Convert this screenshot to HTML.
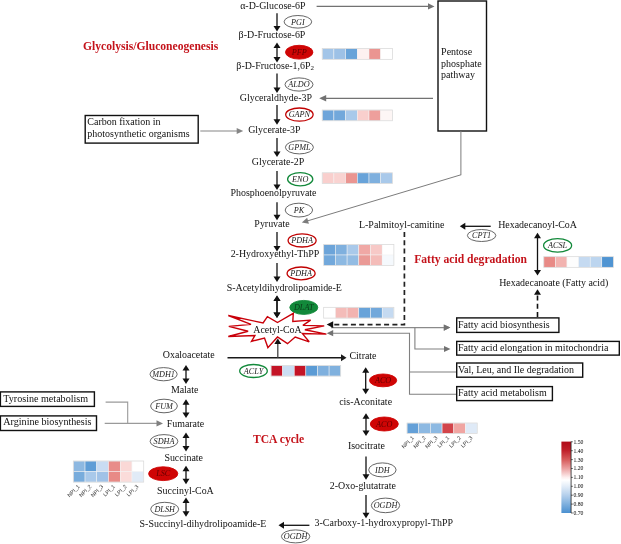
<!DOCTYPE html>
<html><head><meta charset="utf-8"><title>Pathway</title>
<style>
html,body{margin:0;padding:0;background:#fff;}
svg{display:block;filter:blur(0.4px);font-family:'Liberation Serif', 'DejaVu Serif', serif;}
</style></head><body>
<svg width="621" height="544" viewBox="0 0 621 544">
<rect width="621" height="544" fill="#fff"/>
<text x="272.8" y="9.4" font-size="9.93" text-anchor="middle" fill="#111">α-D-Glucose-6P</text>
<text x="272" y="37.8" font-size="9.93" text-anchor="middle" fill="#111">β-D-Fructose-6P</text>
<text x="275.2" y="69.2" font-size="9.93" text-anchor="middle" fill="#111">β-D-Fructose-1,6P<tspan font-size="7" dy="1.2">2</tspan></text>
<text x="275.9" y="100.7" font-size="9.93" text-anchor="middle" fill="#111">Glyceraldhyde-3P</text>
<text x="274.3" y="133.2" font-size="9.93" text-anchor="middle" fill="#111">Glycerate-3P</text>
<text x="278" y="164.8" font-size="9.93" text-anchor="middle" fill="#111">Glycerate-2P</text>
<text x="273.5" y="196.0" font-size="9.93" text-anchor="middle" fill="#111">Phosphoenolpyruvate</text>
<text x="272" y="227.2" font-size="9.93" text-anchor="middle" fill="#111">Pyruvate</text>
<text x="275" y="257.2" font-size="9.93" text-anchor="middle" fill="#111">2-Hydroxyethyl-ThPP</text>
<text x="284.3" y="291.2" font-size="9.93" text-anchor="middle" fill="#111">S-Acetyldihydrolipoamide-E</text>
<line x1="277.00" y1="13.20" x2="277.00" y2="27.00" stroke="#111" stroke-width="1.3"/>
<polygon points="277.00,31.50 273.50,26.00 280.50,26.00" fill="#111"/>
<line x1="277.00" y1="47.00" x2="277.00" y2="58.10" stroke="#111" stroke-width="1.3"/>
<polygon points="277.00,62.60 273.50,57.10 280.50,57.10" fill="#111"/>
<polygon points="277.00,42.50 280.50,48.00 273.50,48.00" fill="#111"/>
<line x1="277.00" y1="73.50" x2="277.00" y2="88.40" stroke="#111" stroke-width="1.3"/>
<polygon points="277.00,92.90 273.50,87.40 280.50,87.40" fill="#111"/>
<line x1="277.00" y1="105.00" x2="277.00" y2="120.30" stroke="#111" stroke-width="1.3"/>
<polygon points="277.00,124.80 273.50,119.30 280.50,119.30" fill="#111"/>
<line x1="277.00" y1="138.00" x2="277.00" y2="152.60" stroke="#111" stroke-width="1.3"/>
<polygon points="277.00,157.10 273.50,151.60 280.50,151.60" fill="#111"/>
<line x1="277.00" y1="171.10" x2="277.00" y2="185.40" stroke="#111" stroke-width="1.3"/>
<polygon points="277.00,189.90 273.50,184.40 280.50,184.40" fill="#111"/>
<line x1="277.00" y1="202.30" x2="277.00" y2="215.80" stroke="#111" stroke-width="1.3"/>
<polygon points="277.00,220.30 273.50,214.80 280.50,214.80" fill="#111"/>
<line x1="277.00" y1="231.90" x2="277.00" y2="247.10" stroke="#111" stroke-width="1.3"/>
<polygon points="277.00,251.60 273.50,246.10 280.50,246.10" fill="#111"/>
<line x1="277.00" y1="263.00" x2="277.00" y2="277.50" stroke="#111" stroke-width="1.3"/>
<polygon points="277.00,282.00 273.50,276.50 280.50,276.50" fill="#111"/>
<line x1="277.00" y1="300.00" x2="277.00" y2="313.50" stroke="#111" stroke-width="1.3"/>
<polygon points="277.00,318.00 273.50,312.50 280.50,312.50" fill="#111"/>
<polygon points="277.00,295.50 280.50,301.00 273.50,301.00" fill="#111"/>
<ellipse cx="297.9" cy="21.8" rx="13.8" ry="6.3" fill="#fff" stroke="#555" stroke-width="0.9"/>
<text x="297.9" y="24.506" font-size="8.2" text-anchor="middle" font-style="italic" fill="#222">PGI</text>
<ellipse cx="299.2" cy="52.2" rx="13.7" ry="6.9" fill="#cf0505" stroke="#cf0505" stroke-width="0.9"/>
<text x="299.2" y="54.906000000000006" font-size="8.2" text-anchor="middle" font-style="italic" fill="#650000">PFP</text>
<ellipse cx="299" cy="84.5" rx="14" ry="6.6" fill="#fff" stroke="#555" stroke-width="0.9"/>
<text x="299" y="87.206" font-size="8.2" text-anchor="middle" font-style="italic" fill="#222">ALDO</text>
<ellipse cx="299.4" cy="114.6" rx="13.7" ry="6.6" fill="#fff" stroke="#c00000" stroke-width="1.3"/>
<text x="299.4" y="117.306" font-size="8.2" text-anchor="middle" font-style="italic" fill="#222">GAPN</text>
<ellipse cx="299.4" cy="147.3" rx="14" ry="6.6" fill="#fff" stroke="#555" stroke-width="0.9"/>
<text x="299.4" y="150.006" font-size="8.2" text-anchor="middle" font-style="italic" fill="#222">GPML</text>
<ellipse cx="300.2" cy="179.2" rx="12.6" ry="6.6" fill="#fff" stroke="#12893a" stroke-width="1.3"/>
<text x="300.2" y="181.90599999999998" font-size="8.2" text-anchor="middle" font-style="italic" fill="#222">ENO</text>
<ellipse cx="298.9" cy="210.1" rx="13.7" ry="6.9" fill="#fff" stroke="#555" stroke-width="0.9"/>
<text x="298.9" y="212.80599999999998" font-size="8.2" text-anchor="middle" font-style="italic" fill="#222">PK</text>
<ellipse cx="302.1" cy="240.4" rx="14" ry="6.6" fill="#fff" stroke="#c00000" stroke-width="1.3"/>
<text x="302.1" y="243.106" font-size="8.2" text-anchor="middle" font-style="italic" fill="#222">PDHA</text>
<ellipse cx="301.1" cy="273.4" rx="14" ry="6.4" fill="#fff" stroke="#c00000" stroke-width="1.3"/>
<text x="301.1" y="276.106" font-size="8.2" text-anchor="middle" font-style="italic" fill="#222">PDHA</text>
<ellipse cx="303.8" cy="307.4" rx="14" ry="7" fill="#12893a" stroke="#12893a" stroke-width="0.9"/>
<text x="303.8" y="310.106" font-size="8.2" text-anchor="middle" font-style="italic" fill="#0a3d1a">DLAT</text>
<rect x="322.20" y="48.50" width="11.70" height="10.80" fill="#a3c5e8" stroke="#f4f4f4" stroke-width="0.5"/>
<rect x="333.90" y="48.50" width="11.70" height="10.80" fill="#9dc1e6" stroke="#f4f4f4" stroke-width="0.5"/>
<rect x="345.60" y="48.50" width="11.70" height="10.80" fill="#68a3d9" stroke="#f4f4f4" stroke-width="0.5"/>
<rect x="357.30" y="48.50" width="11.70" height="10.80" fill="#fdf1f0" stroke="#f4f4f4" stroke-width="0.5"/>
<rect x="369.00" y="48.50" width="11.70" height="10.80" fill="#ea9591" stroke="#f4f4f4" stroke-width="0.5"/>
<rect x="380.70" y="48.50" width="11.70" height="10.80" fill="#ffffff" stroke="#f4f4f4" stroke-width="0.5"/>
<rect x="322.20" y="48.50" width="70.20" height="10.80" fill="none" stroke="#d9d9d9" stroke-width="0.7"/>
<rect x="322.20" y="110.00" width="11.70" height="10.80" fill="#6ea5da" stroke="#f4f4f4" stroke-width="0.5"/>
<rect x="333.90" y="110.00" width="11.70" height="10.80" fill="#72a8db" stroke="#f4f4f4" stroke-width="0.5"/>
<rect x="345.60" y="110.00" width="11.70" height="10.80" fill="#a9c9ea" stroke="#f4f4f4" stroke-width="0.5"/>
<rect x="357.30" y="110.00" width="11.70" height="10.80" fill="#f9cfcd" stroke="#f4f4f4" stroke-width="0.5"/>
<rect x="369.00" y="110.00" width="11.70" height="10.80" fill="#ee9f9c" stroke="#f4f4f4" stroke-width="0.5"/>
<rect x="380.70" y="110.00" width="11.70" height="10.80" fill="#fdf6f5" stroke="#f4f4f4" stroke-width="0.5"/>
<rect x="322.20" y="110.00" width="70.20" height="10.80" fill="none" stroke="#d9d9d9" stroke-width="0.7"/>
<rect x="322.20" y="172.80" width="11.70" height="10.80" fill="#f9cfcd" stroke="#f4f4f4" stroke-width="0.5"/>
<rect x="333.90" y="172.80" width="11.70" height="10.80" fill="#f9d3d1" stroke="#f4f4f4" stroke-width="0.5"/>
<rect x="345.60" y="172.80" width="11.70" height="10.80" fill="#ea9591" stroke="#f4f4f4" stroke-width="0.5"/>
<rect x="357.30" y="172.80" width="11.70" height="10.80" fill="#68a3d9" stroke="#f4f4f4" stroke-width="0.5"/>
<rect x="369.00" y="172.80" width="11.70" height="10.80" fill="#7fb0de" stroke="#f4f4f4" stroke-width="0.5"/>
<rect x="380.70" y="172.80" width="11.70" height="10.80" fill="#a9c9ea" stroke="#f4f4f4" stroke-width="0.5"/>
<rect x="322.20" y="172.80" width="70.20" height="10.80" fill="none" stroke="#d9d9d9" stroke-width="0.7"/>
<rect x="323.70" y="244.60" width="11.70" height="10.40" fill="#6ca4d9" stroke="#f4f4f4" stroke-width="0.5"/>
<rect x="335.40" y="244.60" width="11.70" height="10.40" fill="#7fb0de" stroke="#f4f4f4" stroke-width="0.5"/>
<rect x="347.10" y="244.60" width="11.70" height="10.40" fill="#a9c9ea" stroke="#f4f4f4" stroke-width="0.5"/>
<rect x="358.80" y="244.60" width="11.70" height="10.40" fill="#f0a8a5" stroke="#f4f4f4" stroke-width="0.5"/>
<rect x="370.50" y="244.60" width="11.70" height="10.40" fill="#f7c9c7" stroke="#f4f4f4" stroke-width="0.5"/>
<rect x="382.20" y="244.60" width="11.70" height="10.40" fill="#ffffff" stroke="#f4f4f4" stroke-width="0.5"/>
<rect x="323.70" y="255.00" width="11.70" height="10.40" fill="#72a8db" stroke="#f4f4f4" stroke-width="0.5"/>
<rect x="335.40" y="255.00" width="11.70" height="10.40" fill="#8db9e2" stroke="#f4f4f4" stroke-width="0.5"/>
<rect x="347.10" y="255.00" width="11.70" height="10.40" fill="#93bce3" stroke="#f4f4f4" stroke-width="0.5"/>
<rect x="358.80" y="255.00" width="11.70" height="10.40" fill="#ea9a96" stroke="#f4f4f4" stroke-width="0.5"/>
<rect x="370.50" y="255.00" width="11.70" height="10.40" fill="#f4bcb9" stroke="#f4f4f4" stroke-width="0.5"/>
<rect x="382.20" y="255.00" width="11.70" height="10.40" fill="#f5f9fd" stroke="#f4f4f4" stroke-width="0.5"/>
<rect x="323.70" y="244.60" width="70.20" height="20.80" fill="none" stroke="#d9d9d9" stroke-width="0.7"/>
<rect x="323.70" y="307.30" width="11.70" height="10.80" fill="#ffffff" stroke="#f4f4f4" stroke-width="0.5"/>
<rect x="335.40" y="307.30" width="11.70" height="10.80" fill="#f4bcb9" stroke="#f4f4f4" stroke-width="0.5"/>
<rect x="347.10" y="307.30" width="11.70" height="10.80" fill="#f2b3b0" stroke="#f4f4f4" stroke-width="0.5"/>
<rect x="358.80" y="307.30" width="11.70" height="10.80" fill="#68a3d9" stroke="#f4f4f4" stroke-width="0.5"/>
<rect x="370.50" y="307.30" width="11.70" height="10.80" fill="#72a8db" stroke="#f4f4f4" stroke-width="0.5"/>
<rect x="382.20" y="307.30" width="11.70" height="10.80" fill="#c5daf1" stroke="#f4f4f4" stroke-width="0.5"/>
<rect x="323.70" y="307.30" width="70.20" height="10.80" fill="none" stroke="#d9d9d9" stroke-width="0.7"/>
<rect x="271.00" y="365.60" width="11.62" height="10.50" fill="#c41426" stroke="#f4f4f4" stroke-width="0.5"/>
<rect x="282.62" y="365.60" width="11.62" height="10.50" fill="#cbdef3" stroke="#f4f4f4" stroke-width="0.5"/>
<rect x="294.24" y="365.60" width="11.62" height="10.50" fill="#c41426" stroke="#f4f4f4" stroke-width="0.5"/>
<rect x="305.86" y="365.60" width="11.62" height="10.50" fill="#5b9bd5" stroke="#f4f4f4" stroke-width="0.5"/>
<rect x="317.48" y="365.60" width="11.62" height="10.50" fill="#7fb0de" stroke="#f4f4f4" stroke-width="0.5"/>
<rect x="329.10" y="365.60" width="11.62" height="10.50" fill="#80b1de" stroke="#f4f4f4" stroke-width="0.5"/>
<rect x="271.00" y="365.60" width="69.72" height="10.50" fill="none" stroke="#d9d9d9" stroke-width="0.7"/>
<rect x="407.00" y="423.00" width="11.70" height="10.40" fill="#64a0d8" stroke="#f4f4f4" stroke-width="0.5"/>
<rect x="418.70" y="423.00" width="11.70" height="10.40" fill="#8db9e2" stroke="#f4f4f4" stroke-width="0.5"/>
<rect x="430.40" y="423.00" width="11.70" height="10.40" fill="#8db9e2" stroke="#f4f4f4" stroke-width="0.5"/>
<rect x="442.10" y="423.00" width="11.70" height="10.40" fill="#d2444a" stroke="#f4f4f4" stroke-width="0.5"/>
<rect x="453.80" y="423.00" width="11.70" height="10.40" fill="#f0a5a2" stroke="#f4f4f4" stroke-width="0.5"/>
<rect x="465.50" y="423.00" width="11.70" height="10.40" fill="#dfeaf7" stroke="#f4f4f4" stroke-width="0.5"/>
<rect x="407.00" y="423.00" width="70.20" height="10.40" fill="none" stroke="#d9d9d9" stroke-width="0.7"/>
<text transform="translate(414.45,438.10) rotate(-45)" font-size="5.4" text-anchor="end" fill="#333" font-family="Liberation Sans, sans-serif">NPI_1</text>
<text transform="translate(426.15,438.10) rotate(-45)" font-size="5.4" text-anchor="end" fill="#333" font-family="Liberation Sans, sans-serif">NPI_2</text>
<text transform="translate(437.85,438.10) rotate(-45)" font-size="5.4" text-anchor="end" fill="#333" font-family="Liberation Sans, sans-serif">NPI_3</text>
<text transform="translate(449.55,438.10) rotate(-45)" font-size="5.4" text-anchor="end" fill="#333" font-family="Liberation Sans, sans-serif">LPI_1</text>
<text transform="translate(461.25,438.10) rotate(-45)" font-size="5.4" text-anchor="end" fill="#333" font-family="Liberation Sans, sans-serif">LPI_2</text>
<text transform="translate(472.95,438.10) rotate(-45)" font-size="5.4" text-anchor="end" fill="#333" font-family="Liberation Sans, sans-serif">LPI_3</text>
<rect x="73.30" y="461.00" width="11.74" height="10.55" fill="#8db8e1" stroke="#f4f4f4" stroke-width="0.5"/>
<rect x="85.04" y="461.00" width="11.74" height="10.55" fill="#5f9dd6" stroke="#f4f4f4" stroke-width="0.5"/>
<rect x="96.78" y="461.00" width="11.74" height="10.55" fill="#c9dcf2" stroke="#f4f4f4" stroke-width="0.5"/>
<rect x="108.52" y="461.00" width="11.74" height="10.55" fill="#e88c89" stroke="#f4f4f4" stroke-width="0.5"/>
<rect x="120.26" y="461.00" width="11.74" height="10.55" fill="#fad8d6" stroke="#f4f4f4" stroke-width="0.5"/>
<rect x="132.00" y="461.00" width="11.74" height="10.55" fill="#ffffff" stroke="#f4f4f4" stroke-width="0.5"/>
<rect x="73.30" y="471.55" width="11.74" height="10.55" fill="#78acdc" stroke="#f4f4f4" stroke-width="0.5"/>
<rect x="85.04" y="471.55" width="11.74" height="10.55" fill="#a9c9ea" stroke="#f4f4f4" stroke-width="0.5"/>
<rect x="96.78" y="471.55" width="11.74" height="10.55" fill="#a0c2e7" stroke="#f4f4f4" stroke-width="0.5"/>
<rect x="108.52" y="471.55" width="11.74" height="10.55" fill="#e88a86" stroke="#f4f4f4" stroke-width="0.5"/>
<rect x="120.26" y="471.55" width="11.74" height="10.55" fill="#fbdcda" stroke="#f4f4f4" stroke-width="0.5"/>
<rect x="132.00" y="471.55" width="11.74" height="10.55" fill="#e1ebf7" stroke="#f4f4f4" stroke-width="0.5"/>
<rect x="73.30" y="461.00" width="70.44" height="21.10" fill="none" stroke="#d9d9d9" stroke-width="0.7"/>
<text transform="translate(80.07,486.80) rotate(-45)" font-size="5.4" text-anchor="end" fill="#333" font-family="Liberation Sans, sans-serif">NPI_1</text>
<text transform="translate(91.81,486.80) rotate(-45)" font-size="5.4" text-anchor="end" fill="#333" font-family="Liberation Sans, sans-serif">NPI_2</text>
<text transform="translate(103.55,486.80) rotate(-45)" font-size="5.4" text-anchor="end" fill="#333" font-family="Liberation Sans, sans-serif">NPI_3</text>
<text transform="translate(115.29,486.80) rotate(-45)" font-size="5.4" text-anchor="end" fill="#333" font-family="Liberation Sans, sans-serif">LPI_1</text>
<text transform="translate(127.03,486.80) rotate(-45)" font-size="5.4" text-anchor="end" fill="#333" font-family="Liberation Sans, sans-serif">LPI_2</text>
<text transform="translate(138.77,486.80) rotate(-45)" font-size="5.4" text-anchor="end" fill="#333" font-family="Liberation Sans, sans-serif">LPI_3</text>
<rect x="543.80" y="256.70" width="11.60" height="10.60" fill="#e88a86" stroke="#f4f4f4" stroke-width="0.5"/>
<rect x="555.40" y="256.70" width="11.60" height="10.60" fill="#f2b3b0" stroke="#f4f4f4" stroke-width="0.5"/>
<rect x="567.00" y="256.70" width="11.60" height="10.60" fill="#fdfdfd" stroke="#f4f4f4" stroke-width="0.5"/>
<rect x="578.60" y="256.70" width="11.60" height="10.60" fill="#c5daf1" stroke="#f4f4f4" stroke-width="0.5"/>
<rect x="590.20" y="256.70" width="11.60" height="10.60" fill="#bcd5ef" stroke="#f4f4f4" stroke-width="0.5"/>
<rect x="601.80" y="256.70" width="11.60" height="10.60" fill="#4f94d2" stroke="#f4f4f4" stroke-width="0.5"/>
<rect x="543.80" y="256.70" width="69.60" height="10.60" fill="none" stroke="#d9d9d9" stroke-width="0.7"/>
<text x="83" y="49.5" font-size="11.6" font-weight="bold" fill="#c4121a">Glycolysis/Gluconeogenesis</text>
<text x="414.2" y="262.5" font-size="11.6" font-weight="bold" fill="#c4121a">Fatty acid degradation</text>
<text x="253" y="442.7" font-size="11.6" font-weight="bold" fill="#c4121a">TCA cycle</text>
<line x1="316.60" y1="6.40" x2="429.00" y2="6.40" stroke="#727272" stroke-width="1.2"/>
<polygon points="434.50,6.40 428.00,9.50 428.00,3.30" fill="#727272"/>
<rect x="438" y="1" width="48.5" height="130" fill="#fff" stroke="#111" stroke-width="1.4"/>
<text x="441.1" y="54.9" font-size="10" fill="#111">Pentose</text>
<text x="441.1" y="66.5" font-size="10" fill="#111">phosphate</text>
<text x="441.1" y="78.1" font-size="10" fill="#111">pathway</text>
<line x1="433.00" y1="98.30" x2="325.20" y2="98.30" stroke="#727272" stroke-width="1.2"/>
<polygon points="319.20,98.30 326.20,95.00 326.20,101.60" fill="#727272"/>
<polyline points="460.9,131 460.9,175.2" fill="none" stroke="#7c7c7c" stroke-width="1.0"/>
<line x1="460.90" y1="174.80" x2="307.07" y2="221.02" stroke="#7c7c7c" stroke-width="1.0"/>
<polygon points="301.80,222.60 307.13,217.76 308.92,223.70" fill="#7c7c7c"/>
<rect x="85.2" y="115.5" width="113" height="27.6" fill="#fff" stroke="#111" stroke-width="1.4"/>
<text x="87.3" y="124.6" font-size="10" fill="#111">Carbon fixation in</text>
<text x="87.3" y="136.5" font-size="10" fill="#111">photosynthetic organisms</text>
<line x1="200.30" y1="131.00" x2="237.70" y2="131.00" stroke="#858585" stroke-width="1.1"/>
<polygon points="243.20,131.00 236.70,134.10 236.70,127.90" fill="#858585"/>
<text x="359" y="227.8" font-size="9.93" fill="#111">L-Palmitoyl-camitine</text>
<text x="498.2" y="227.9" font-size="9.93" fill="#111">Hexadecanoyl-CoA</text>
<text x="499.2" y="286.3" font-size="9.93" fill="#111">Hexadecanoate (Fatty acid)</text>
<line x1="490.70" y1="226.30" x2="464.30" y2="226.30" stroke="#111" stroke-width="1.3"/>
<polygon points="459.80,226.30 465.30,222.80 465.30,229.80" fill="#111"/>
<ellipse cx="481.6" cy="235.5" rx="14.2" ry="6" fill="#fff" stroke="#555" stroke-width="0.9"/>
<text x="481.6" y="238.206" font-size="8.2" text-anchor="middle" font-style="italic" fill="#222">CPT1</text>
<line x1="537.50" y1="237.30" x2="537.50" y2="270.90" stroke="#111" stroke-width="1.3"/>
<polygon points="537.50,275.40 534.00,269.90 541.00,269.90" fill="#111"/>
<polygon points="537.50,232.80 541.00,238.30 534.00,238.30" fill="#111"/>
<ellipse cx="557.6" cy="245.4" rx="14" ry="6.8" fill="#fff" stroke="#12893a" stroke-width="1.3"/>
<text x="557.6" y="248.106" font-size="8.2" text-anchor="middle" font-style="italic" fill="#222">ACSL</text>
<line x1="537.50" y1="317.00" x2="537.50" y2="293.80" stroke="#111" stroke-width="1.6" stroke-dasharray="5,3.2"/>
<polygon points="537.50,289.30 541.00,294.80 534.00,294.80" fill="#111"/>
<rect x="456.7" y="317.9" width="102.2" height="14.5" fill="#fff" stroke="#111" stroke-width="1.4"/>
<text x="457.9" y="327.85" font-size="10" fill="#111">Fatty acid biosynthesis</text>
<rect x="456.7" y="341.4" width="162.6" height="13.7" fill="#fff" stroke="#111" stroke-width="1.4"/>
<text x="457.9" y="350.95" font-size="10" fill="#111">Fatty acid elongation in mitochondria</text>
<rect x="456.7" y="363" width="126" height="14.2" fill="#fff" stroke="#111" stroke-width="1.4"/>
<text x="457.9" y="372.8" font-size="10" fill="#111">Val, Leu, and Ile degradation</text>
<rect x="456.7" y="386.6" width="95.7" height="14" fill="#fff" stroke="#111" stroke-width="1.4"/>
<text x="457.9" y="396.3" font-size="10" fill="#111">Fatty acid metabolism</text>
<line x1="331.00" y1="327.60" x2="444.80" y2="327.60" stroke="#8a8a8a" stroke-width="1.1"/>
<polygon points="450.30,327.60 443.80,330.70 443.80,324.50" fill="#8a8a8a"/>
<polygon points="450.30,327.60 443.80,330.70 443.80,324.50" fill="#727272"/>
<polyline points="414.9,327.6 414.9,349 446,349" fill="none" stroke="#808080" stroke-width="1.1"/>
<polygon points="450.50,349.00 444.00,352.10 444.00,345.90" fill="#727272"/>
<polyline points="332,333.2 409.5,333.2 409.5,394.2 456,394.2" fill="none" stroke="#808080" stroke-width="1.1"/>
<polygon points="326.70,333.20 333.20,330.10 333.20,336.30" fill="#727272"/>
<polyline points="409.5,372 456,372" fill="none" stroke="#808080" stroke-width="1.1"/>
<polyline points="404.4,232 404.4,324.6 332,324.6" fill="none" stroke="#222" stroke-width="1.7" stroke-dasharray="5,3.3"/>
<polygon points="326.70,324.60 333.20,321.30 333.20,327.90" fill="#111"/>
<polygon points="277.5,322.5 293.3,313.3 292.8,321.5 310.6,320.1 302.9,325.4 324.2,325.9 304.9,329.7 326.4,334.1 302.4,333.6 309.2,341.8 295.2,337.0 287.5,343.7 277.5,337.0 267.9,347.6 264.5,338.0 251.5,341.3 254.9,335.5 228.3,336.5 248.1,331.2 228.8,326.4 251.0,324.4 228.3,315.5 263.1,323.0 267.4,316.7" fill="#fff" stroke="#c9000a" stroke-width="1.4" stroke-linejoin="miter" stroke-miterlimit="3"/>
<text x="277.5" y="332.6" font-size="9.93" text-anchor="middle" fill="#111">Acetyl-CoA</text>
<line x1="277.00" y1="300.00" x2="277.00" y2="313.50" stroke="#111" stroke-width="1.3"/>
<polygon points="277.00,318.00 273.50,312.50 280.50,312.50" fill="#111"/>
<polygon points="277.00,295.50 280.50,301.00 273.50,301.00" fill="#111"/>
<line x1="227.50" y1="357.80" x2="342.00" y2="357.80" stroke="#1a1a1a" stroke-width="1.4"/>
<polygon points="346.50,357.80 341.00,361.30 341.00,354.30" fill="#1a1a1a"/>
<line x1="277.80" y1="357.80" x2="277.80" y2="343.00" stroke="#444" stroke-width="1.3"/>
<polygon points="277.80,338.50 281.30,344.00 274.30,344.00" fill="#111"/>
<text x="349.5" y="359.3" font-size="9.93" fill="#111">Citrate</text>
<ellipse cx="253.5" cy="371" rx="13.8" ry="6.5" fill="#fff" stroke="#12893a" stroke-width="1.3"/>
<text x="253.5" y="373.706" font-size="8.2" text-anchor="middle" font-style="italic" fill="#222">ACLY</text>
<line x1="365.70" y1="371.80" x2="365.70" y2="389.80" stroke="#111" stroke-width="1.3"/>
<polygon points="365.70,394.30 362.20,388.80 369.20,388.80" fill="#111"/>
<polygon points="365.70,367.30 369.20,372.80 362.20,372.80" fill="#111"/>
<ellipse cx="383.1" cy="380.4" rx="13.6" ry="6.4" fill="#cf0505" stroke="#cf0505" stroke-width="0.9"/>
<text x="383.1" y="383.106" font-size="8.2" text-anchor="middle" font-style="italic" fill="#650000">ACO</text>
<text x="365.6" y="404.9" font-size="9.93" text-anchor="middle" fill="#111">cis-Aconitate</text>
<line x1="366.00" y1="417.70" x2="366.00" y2="431.60" stroke="#111" stroke-width="1.3"/>
<polygon points="366.00,436.10 362.50,430.60 369.50,430.60" fill="#111"/>
<polygon points="366.00,413.20 369.50,418.70 362.50,418.70" fill="#111"/>
<ellipse cx="384.3" cy="424" rx="14" ry="7" fill="#cf0505" stroke="#cf0505" stroke-width="0.9"/>
<text x="384.3" y="426.706" font-size="8.2" text-anchor="middle" font-style="italic" fill="#650000">ACO</text>
<text x="366.4" y="449.2" font-size="9.93" text-anchor="middle" fill="#111">Isocitrate</text>
<line x1="366.00" y1="456.50" x2="366.00" y2="475.20" stroke="#111" stroke-width="1.3"/>
<polygon points="366.00,479.70 362.50,474.20 369.50,474.20" fill="#111"/>
<ellipse cx="382.4" cy="469.9" rx="13.7" ry="7" fill="#fff" stroke="#555" stroke-width="0.9"/>
<text x="382.4" y="472.606" font-size="8.2" text-anchor="middle" font-style="italic" fill="#222">IDH</text>
<text x="362.8" y="488.9" font-size="9.93" text-anchor="middle" fill="#111">2-Oxo-glutatrate</text>
<line x1="366.00" y1="495.00" x2="366.00" y2="513.80" stroke="#111" stroke-width="1.3"/>
<polygon points="366.00,518.30 362.50,512.80 369.50,512.80" fill="#111"/>
<ellipse cx="385.5" cy="505.4" rx="14.2" ry="7.3" fill="#fff" stroke="#555" stroke-width="0.9"/>
<text x="385.5" y="508.106" font-size="8.2" text-anchor="middle" font-style="italic" fill="#222">OGDH</text>
<text x="314.6" y="526.2" font-size="9.93" fill="#111">3-Carboxy-1-hydroxypropyl-ThPP</text>
<line x1="309.40" y1="525.30" x2="283.00" y2="525.30" stroke="#111" stroke-width="1.3"/>
<polygon points="278.50,525.30 284.00,521.80 284.00,528.80" fill="#111"/>
<ellipse cx="295.6" cy="536.4" rx="14.2" ry="6.5" fill="#fff" stroke="#555" stroke-width="0.9"/>
<text x="295.6" y="539.106" font-size="8.2" text-anchor="middle" font-style="italic" fill="#222">OGDH</text>
<text x="139.6" y="527.2" font-size="9.93" fill="#111">S-Succinyl-dihydrolipoamide-E</text>
<text x="162.8" y="357.5" font-size="9.93" fill="#111">Oxaloacetate</text>
<text x="170.9" y="393" font-size="9.93" fill="#111">Malate</text>
<text x="166.7" y="426.7" font-size="9.93" fill="#111">Fumarate</text>
<text x="164.4" y="461.2" font-size="9.93" fill="#111">Succinate</text>
<text x="157" y="493.6" font-size="9.93" fill="#111">Succinyl-CoA</text>
<line x1="186.00" y1="369.50" x2="186.00" y2="379.50" stroke="#111" stroke-width="1.3"/>
<polygon points="186.00,384.00 182.50,378.50 189.50,378.50" fill="#111"/>
<polygon points="186.00,365.00 189.50,370.50 182.50,370.50" fill="#111"/>
<line x1="186.00" y1="403.70" x2="186.00" y2="413.50" stroke="#111" stroke-width="1.3"/>
<polygon points="186.00,418.00 182.50,412.50 189.50,412.50" fill="#111"/>
<polygon points="186.00,399.20 189.50,404.70 182.50,404.70" fill="#111"/>
<line x1="186.00" y1="437.10" x2="186.00" y2="447.10" stroke="#111" stroke-width="1.3"/>
<polygon points="186.00,451.60 182.50,446.10 189.50,446.10" fill="#111"/>
<polygon points="186.00,432.60 189.50,438.10 182.50,438.10" fill="#111"/>
<line x1="186.00" y1="470.30" x2="186.00" y2="479.80" stroke="#111" stroke-width="1.3"/>
<polygon points="186.00,484.30 182.50,478.80 189.50,478.80" fill="#111"/>
<polygon points="186.00,465.80 189.50,471.30 182.50,471.30" fill="#111"/>
<line x1="186.00" y1="502.10" x2="186.00" y2="512.30" stroke="#111" stroke-width="1.3"/>
<polygon points="186.00,516.80 182.50,511.30 189.50,511.30" fill="#111"/>
<polygon points="186.00,497.60 189.50,503.10 182.50,503.10" fill="#111"/>
<ellipse cx="163.6" cy="374.2" rx="13.6" ry="6.6" fill="#fff" stroke="#555" stroke-width="0.9"/>
<text x="163.6" y="376.906" font-size="8.2" text-anchor="middle" font-style="italic" fill="#222">MDH1</text>
<ellipse cx="164" cy="406" rx="13.4" ry="6.8" fill="#fff" stroke="#555" stroke-width="0.9"/>
<text x="164" y="408.706" font-size="8.2" text-anchor="middle" font-style="italic" fill="#222">FUM</text>
<ellipse cx="164" cy="441.3" rx="13.9" ry="6.7" fill="#fff" stroke="#555" stroke-width="0.9"/>
<text x="164" y="444.00600000000003" font-size="8.2" text-anchor="middle" font-style="italic" fill="#222">SDHA</text>
<ellipse cx="163.2" cy="473.7" rx="14.6" ry="6.9" fill="#cf0505" stroke="#cf0505" stroke-width="0.9"/>
<text x="163.2" y="476.406" font-size="8.2" text-anchor="middle" font-style="italic" fill="#650000">LSC</text>
<ellipse cx="164.7" cy="509.2" rx="14" ry="6.9" fill="#fff" stroke="#555" stroke-width="0.9"/>
<text x="164.7" y="511.906" font-size="8.2" text-anchor="middle" font-style="italic" fill="#222">DLSH</text>
<rect x="0.4" y="391.9" width="94" height="14.5" fill="#fff" stroke="#111" stroke-width="1.4"/>
<text x="3.3" y="402.1" font-size="10.1" fill="#111">Tyrosine metabolism</text>
<rect x="0.4" y="415.9" width="96.1" height="14.6" fill="#fff" stroke="#111" stroke-width="1.4"/>
<text x="3.3" y="425.0" font-size="10.1" fill="#111">Arginine biosynthesis</text>
<polyline points="105.6,402.1 127.7,402.1 127.7,423.4" fill="none" stroke="#9a9a9a" stroke-width="1.1"/>
<line x1="104.70" y1="423.40" x2="158.00" y2="423.40" stroke="#9a9a9a" stroke-width="1.1"/>
<polygon points="163.00,423.40 156.50,426.50 156.50,420.30" fill="#808080"/>
<defs><linearGradient id="cb" x1="0" y1="0" x2="0" y2="1"><stop offset="0" stop-color="#b00a18"/><stop offset="0.125" stop-color="#c0202a"/><stop offset="0.25" stop-color="#d65a5a"/><stop offset="0.375" stop-color="#eba0a0"/><stop offset="0.5" stop-color="#fdeeee"/><stop offset="0.54" stop-color="#ffffff"/><stop offset="0.625" stop-color="#e3edf8"/><stop offset="0.75" stop-color="#b5d0ec"/><stop offset="0.875" stop-color="#7fb0de"/><stop offset="1" stop-color="#4a90d0"/></linearGradient></defs>
<rect x="561.4" y="441.6" width="9.6" height="71.4" fill="url(#cb)"/>
<line x1="571.1" y1="441.6" x2="571.1" y2="513" stroke="#222" stroke-width="0.8"/>
<line x1="571" y1="441.80" x2="572.8" y2="441.80" stroke="#222" stroke-width="0.7"/>
<text x="573.4" y="443.7" font-size="5.7" fill="#000">1.50</text>
<line x1="571" y1="450.70" x2="572.8" y2="450.70" stroke="#222" stroke-width="0.7"/>
<text x="573.4" y="452.6" font-size="5.7" fill="#000">1.40</text>
<line x1="571" y1="459.60" x2="572.8" y2="459.60" stroke="#222" stroke-width="0.7"/>
<text x="573.4" y="461.5" font-size="5.7" fill="#000">1.30</text>
<line x1="571" y1="468.50" x2="572.8" y2="468.50" stroke="#222" stroke-width="0.7"/>
<text x="573.4" y="470.4" font-size="5.7" fill="#000">1.20</text>
<line x1="571" y1="477.40" x2="572.8" y2="477.40" stroke="#222" stroke-width="0.7"/>
<text x="573.4" y="479.3" font-size="5.7" fill="#000">1.10</text>
<line x1="571" y1="486.30" x2="572.8" y2="486.30" stroke="#222" stroke-width="0.7"/>
<text x="573.4" y="488.2" font-size="5.7" fill="#000">1.00</text>
<line x1="571" y1="495.20" x2="572.8" y2="495.20" stroke="#222" stroke-width="0.7"/>
<text x="573.4" y="497.1" font-size="5.7" fill="#000">0.90</text>
<line x1="571" y1="504.10" x2="572.8" y2="504.10" stroke="#222" stroke-width="0.7"/>
<text x="573.4" y="506.0" font-size="5.7" fill="#000">0.80</text>
<line x1="571" y1="513.00" x2="572.8" y2="513.00" stroke="#222" stroke-width="0.7"/>
<text x="573.4" y="514.9" font-size="5.7" fill="#000">0.70</text>
</svg>
</body></html>
